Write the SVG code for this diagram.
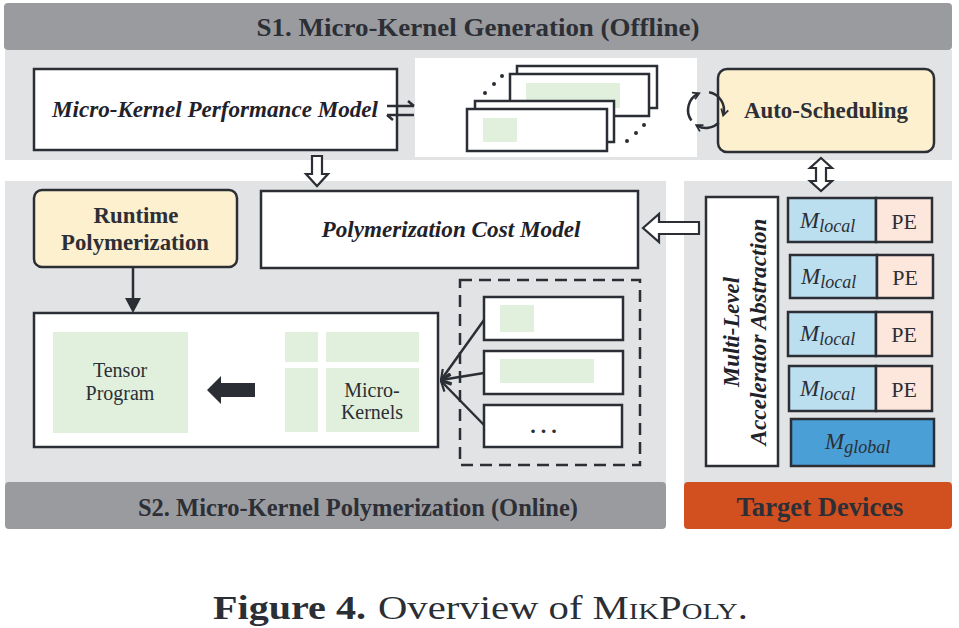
<svg xmlns="http://www.w3.org/2000/svg" width="959" height="628" viewBox="0 0 959 628">
<defs>
<style>
.banner{fill:#9a9b9f}
.body{fill:#e2e3e5}
.box{fill:#fff;stroke:#2b2e35;stroke-width:2.5}
.cream{fill:#fdf0cf;stroke:#2b2e35;stroke-width:2.5}
.green{fill:#e1f0dc}
.hd{font-family:"Liberation Serif",serif;font-weight:bold;fill:#2d2f36}
.it{font-family:"Liberation Serif",serif;font-weight:bold;font-style:italic;fill:#1f2229}
.rg{font-family:"Liberation Serif",serif;fill:#2b2e35}
.mi{font-family:"Liberation Serif",serif;font-style:italic;fill:#2b2e35}
.ln{fill:none;stroke:#2b2e35;stroke-width:2.5}
.hollow{fill:#fff;stroke:#2b2e35;stroke-width:2.2;stroke-linejoin:miter}
.ml{fill:#bcdff0;stroke:#2b2e35;stroke-width:2.5}
.pe{fill:#fde6dc;stroke:#2b2e35;stroke-width:2.5}
</style>
<marker id="vh" viewBox="0 0 12 12" refX="11" refY="6" markerWidth="12" markerHeight="12" markerUnits="userSpaceOnUse" orient="auto">
<path d="M1,1 L11,6 L1,11" fill="none" stroke="#2b2e35" stroke-width="2.2"/>
</marker>
<marker id="ch" viewBox="0 0 10 10" refX="7" refY="5" markerWidth="9" markerHeight="9" markerUnits="userSpaceOnUse" orient="auto">
<path d="M1,1 L8,5 L1,9" fill="none" stroke="#2b2e35" stroke-width="2"/>
</marker>
</defs>

<!-- backgrounds -->
<g id="s1-region">
<rect class="body" x="5" y="50" width="947" height="110"/>
<rect class="banner" x="4" y="3" width="948" height="47" rx="4"/>
<text class="hd" x="478" y="36" text-anchor="middle" font-size="26" textLength="443" lengthAdjust="spacingAndGlyphs">S1. Micro-Kernel Generation (Offline)</text>
<rect x="415" y="58" width="282" height="99" fill="#fff"/>
</g>
<g id="s2-region">
<rect class="body" x="5" y="181" width="661" height="303"/>
<rect class="banner" x="5" y="482" width="661" height="47" rx="4"/>
<text class="hd" x="358" y="516" text-anchor="middle" font-size="26" textLength="440" lengthAdjust="spacingAndGlyphs">S2. Micro-Kernel Polymerization (Online)</text>
</g>
<g id="target-region">
<rect class="body" x="684" y="181" width="268" height="303"/>
<rect x="684" y="482" width="268" height="47" rx="4" fill="#d24f20"/>
<text class="hd" x="820" y="516" text-anchor="middle" font-size="27" textLength="167" lengthAdjust="spacingAndGlyphs">Target Devices</text>
</g>

<g id="perf-model">
<rect class="box" x="34" y="69" width="363" height="81"/>
<text class="it" x="215" y="117" text-anchor="middle" font-size="23" textLength="326" lengthAdjust="spacingAndGlyphs">Micro-Kernel Performance Model</text>
</g>

<g id="kernel-cards">
<rect class="box" x="517" y="66" width="140" height="42"/>
<rect class="box" x="510" y="74" width="139" height="42"/>
<rect class="green" x="526" y="83" width="94" height="25"/>
<rect class="box" x="475" y="101" width="139" height="41"/>
<rect class="box" x="467" y="109" width="140" height="42"/>
<rect class="green" x="483" y="118" width="34" height="24"/>
<g fill="#2b2e35">
<circle cx="485" cy="93" r="2"/><circle cx="494" cy="84" r="2"/><circle cx="502" cy="76" r="2"/>
<circle cx="627" cy="141" r="2"/><circle cx="636" cy="133" r="2"/><circle cx="644" cy="125" r="2"/>
</g>
</g>

<g id="auto-scheduling">
<rect class="cream" x="718" y="69" width="216" height="83" rx="9"/>
<text class="hd" x="826" y="118" text-anchor="middle" font-size="23" textLength="164" lengthAdjust="spacingAndGlyphs">Auto-Scheduling</text>
</g>

<g id="runtime-polymerization">
<rect class="cream" x="34" y="190" width="203" height="77" rx="8"/>
<text class="hd" x="136" y="223" text-anchor="middle" font-size="23" textLength="85" lengthAdjust="spacingAndGlyphs">Runtime</text>
<text class="hd" x="135" y="250" text-anchor="middle" font-size="23" textLength="148" lengthAdjust="spacingAndGlyphs">Polymerization</text>
</g>

<g id="poly-cost-model">
<rect class="box" x="261" y="191" width="377" height="77"/>
<text class="it" x="451" y="237" text-anchor="middle" font-size="23" textLength="259" lengthAdjust="spacingAndGlyphs">Polymerization Cost Model</text>
</g>

<g id="tensor-program-box">
<rect class="box" x="34" y="313" width="404" height="134"/>
<rect class="green" x="53" y="332" width="135" height="101"/>
<text class="rg" x="120" y="377" text-anchor="middle" font-size="20">Tensor</text>
<text class="rg" x="120" y="400" text-anchor="middle" font-size="20">Program</text>
<polygon points="207,390 221,376 221,383 255,383 255,397 221,397 221,404" fill="#2b2e35"/>
<rect class="green" x="285" y="332" width="33" height="30"/>
<rect class="green" x="326" y="332" width="93" height="30"/>
<rect class="green" x="285" y="368" width="33" height="64"/>
<rect class="green" x="326" y="368" width="93" height="64"/>
<text class="rg" x="372" y="397" text-anchor="middle" font-size="20">Micro-</text>
<text class="rg" x="372" y="419" text-anchor="middle" font-size="20">Kernels</text>
</g>

<g id="micro-kernel-set">
<rect x="460" y="280" width="180" height="185" fill="none" stroke="#2b2e35" stroke-width="2.5" stroke-dasharray="12 7"/>
<rect class="box" x="484" y="297" width="139" height="43"/>
<rect class="green" x="500" y="305" width="34" height="27"/>
<rect class="box" x="484" y="351" width="139" height="43"/>
<rect class="green" x="500" y="359" width="94" height="24"/>
<rect class="box" x="484" y="405" width="138" height="42"/>
<text class="rg" x="546" y="433" text-anchor="middle" font-size="22" font-weight="bold" letter-spacing="5">...</text>
</g>

<g id="accelerator-abstraction">
<rect class="box" x="706" y="197" width="72" height="269"/>
<g transform="translate(742,332) rotate(-90)">
<text class="it" x="0" y="-3" text-anchor="middle" font-size="23" textLength="110" lengthAdjust="spacingAndGlyphs">Multi-Level</text>
<text class="it" x="0" y="24" text-anchor="middle" font-size="23" textLength="227" lengthAdjust="spacingAndGlyphs">Accelerator Abstraction</text>
</g>
</g>

<g id="pe-1">
<rect class="ml" x="788" y="198" width="88" height="44"/><rect class="pe" x="876" y="198" width="56" height="44"/>
<text class="mi" x="800" y="228" font-size="23">M<tspan font-size="18" dy="4">local</tspan></text>
<text class="rg" x="904" y="229" text-anchor="middle" font-size="22">PE</text>
</g>
<g id="pe-2">
<rect class="ml" x="790" y="255" width="87" height="43"/><rect class="pe" x="877" y="255" width="56" height="43"/>
<text class="mi" x="801" y="284" font-size="23">M<tspan font-size="18" dy="4">local</tspan></text>
<text class="rg" x="905" y="285" text-anchor="middle" font-size="22">PE</text>
</g>
<g id="pe-3">
<rect class="ml" x="788" y="312" width="88" height="44"/><rect class="pe" x="876" y="312" width="56" height="44"/>
<text class="mi" x="800" y="341" font-size="23">M<tspan font-size="18" dy="4">local</tspan></text>
<text class="rg" x="904" y="342" text-anchor="middle" font-size="22">PE</text>
</g>
<g id="pe-4">
<rect class="ml" x="789" y="366" width="87" height="45"/><rect class="pe" x="876" y="366" width="56" height="45"/>
<text class="mi" x="800" y="396" font-size="23">M<tspan font-size="18" dy="4">local</tspan></text>
<text class="rg" x="904" y="397" text-anchor="middle" font-size="22">PE</text>
</g>
<g id="m-global">
<rect x="791" y="419" width="143" height="47" fill="#4a9fd6" stroke="#2b2e35" stroke-width="2.5"/>
<text class="mi" x="825" y="449" font-size="23">M<tspan font-size="18" dy="4">global</tspan></text>
</g>

<g id="connectors">
<path class="ln" stroke-width="2" d="M387,106 H414 M414,106 L408,101"/>
<path class="ln" stroke-width="2" d="M387,115 H414 M387,115 L393,120"/>
<path class="ln" stroke-width="2.3" d="M691.4,120.5 A18,18 0 0 1 698.4,93.7" marker-end="url(#ch)"/>
<path class="ln" stroke-width="2.3" d="M709.1,92.3 A18,18 0 0 1 723.4,114.7" marker-end="url(#ch)"/>
<path class="ln" stroke-width="2.3" d="M718.7,122.7 A18,18 0 0 1 697,125.6" marker-end="url(#ch)"/>
<polygon class="hollow" points="312,156 322,156 322,174 328,174 317,186 306,174 312,174"/>
<polygon class="hollow" points="821,158 832,168 826,168 826,181 832,181 821,191 810,181 816,181 816,168 810,168"/>
<polygon class="hollow" points="643,228 659,214 659,222 699,222 699,234 659,234 659,242"/>
<line x1="133" y1="267" x2="133" y2="299" stroke="#2b2e35" stroke-width="2.5"/>
<polygon points="125,298 141,298 133,313" fill="#2b2e35"/>
<line class="ln" x1="484" y1="320" x2="441" y2="380" marker-end="url(#vh)"/>
<line class="ln" x1="484" y1="373" x2="441" y2="380" marker-end="url(#vh)"/>
<line class="ln" x1="484" y1="425" x2="441" y2="381" marker-end="url(#vh)"/>
</g>

<g id="caption">
<text class="rg" x="213" y="619" font-size="34" font-weight="bold" fill="#222" textLength="153" lengthAdjust="spacingAndGlyphs">Figure 4.</text>
<text class="rg" x="378" y="619" font-size="34" fill="#222" textLength="370" lengthAdjust="spacingAndGlyphs">Overview of <tspan font-variant="small-caps">MikPoly</tspan>.</text>
</g>
</svg>
